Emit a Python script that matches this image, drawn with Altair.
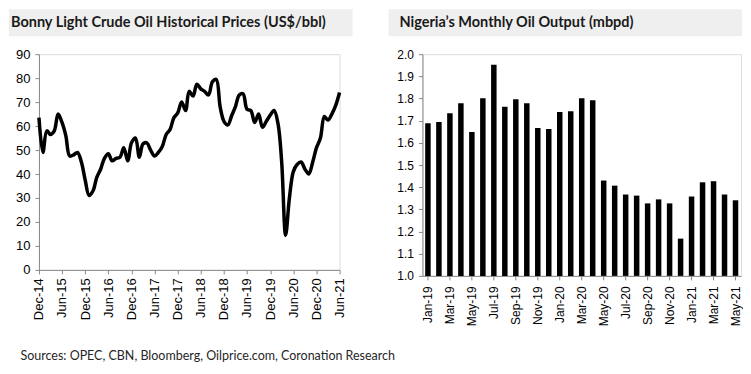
import altair as alt
import pandas as pd

# ---------------- data ----------------
left_title = "Bonny Light Crude Oil Historical Prices (US$/bbl)"
right_title = "Nigeria\u2019s Monthly Oil Output (mbpd)"
source_note = "Sources: OPEC, CBN, Bloomberg, Oilprice.com, Coronation Research"

# monthly Bonny Light price, Dec-14 .. Jun-21
price_values = [
    63.5, 49, 58, 56.5, 58, 65, 61.5, 56, 47.5, 48, 49, 45,
    37.5, 31, 33, 38.5, 42, 46.5, 48.5, 45.5, 46.5, 47, 51, 45.5,
    53, 55, 47, 52.5, 53, 50, 47.5, 49, 51.5, 56.5, 58.5, 63.5,
    65.5, 70, 66.5, 74.5, 72.5, 77.5, 75.5, 74.5, 73, 78.5, 79.5, 68,
    62, 60.5, 64.5, 68, 73, 73.5, 67, 66.5, 61.5, 65, 59.5, 62,
    64.5, 66.5, 61, 45, 14.5, 30, 41, 44, 45, 42, 40, 45,
    51, 55, 64, 62.5, 65, 68.5, 74,
]
price_start = "2014-12-01"
price_ticks = [(2014, 12), (2015, 6), (2015, 12), (2016, 6), (2016, 12), (2017, 6),
               (2017, 12), (2018, 6), (2018, 12), (2019, 6), (2019, 12), (2020, 6),
               (2020, 12), (2021, 6)]
price_y_ticks = [0, 10, 20, 30, 40, 50, 60, 70, 80, 90]

output_months = [
    "Jan-19", "Feb-19", "Mar-19", "Apr-19", "May-19", "Jun-19", "Jul-19", "Aug-19",
    "Sep-19", "Oct-19", "Nov-19", "Dec-19", "Jan-20", "Feb-20", "Mar-20", "Apr-20",
    "May-20", "Jun-20", "Jul-20", "Aug-20", "Sep-20", "Oct-20", "Nov-20", "Dec-20",
    "Jan-21", "Feb-21", "Mar-21", "Apr-21", "May-21",
]
output_values = [
    1.689, 1.694, 1.734, 1.779, 1.649, 1.801, 1.952, 1.763,
    1.797, 1.779, 1.667, 1.662, 1.739, 1.743, 1.801, 1.792,
    1.43, 1.407, 1.367, 1.362, 1.327, 1.345, 1.327, 1.168,
    1.358, 1.422, 1.427, 1.367, 1.341,
]
output_y_ticks = [1.0, 1.1, 1.2, 1.3, 1.4, 1.5, 1.6, 1.7, 1.8, 1.9, 2.0]

# ---------------- frames ----------------
price_df = pd.DataFrame({
    "date": pd.date_range(price_start, periods=len(price_values), freq="MS").strftime("%Y-%m-%dT00:00:00"),
    "price": price_values,
})
output_df = pd.DataFrame({"month": output_months, "output": output_values})

FONT = "Lato"
LABEL = "#262626"
AXIS = "#d9d9d9"
BAND = "#efefef"


def title_layers(text, x1, x2, tx):
    d = pd.DataFrame({"t": [text]})
    band = alt.Chart(d).mark_rect(color=BAND).encode(
        x=alt.value(x1), x2=alt.value(x2), y=alt.value(-45), y2=alt.value(-18)
    )
    txt = alt.Chart(d).mark_text(
        font=FONT, fontWeight="bold", fontSize=14.5, color="#1a1a1a",
        align="left", baseline="middle"
    ).encode(text="t:N", x=alt.value(tx), y=alt.value(-31))
    return band, txt


# ---------------- left: price line ----------------
lband, ltxt = title_layers(left_title, -30, 314, -28)
line = alt.Chart(price_df).mark_line(
    color="black", strokeWidth=3.5, interpolate="catmull-rom"
).encode(
    x=alt.X(
        "date:T",
        title=None,
        scale=alt.Scale(domain=[alt.DateTime(year=2014, month=12, date=1),
                                alt.DateTime(year=2021, month=6, date=1)]),
        axis=alt.Axis(
            values=[alt.DateTime(year=y, month=m, date=1) for y, m in price_ticks],
            format="%b-%y", labelAngle=-90, labelFontSize=13, tickSize=4,
            labelPadding=4, grid=False,
        ),
    ),
    y=alt.Y(
        "price:Q",
        title=None,
        scale=alt.Scale(domain=[0, 90]),
        axis=alt.Axis(values=price_y_ticks, labelFontSize=13, tickSize=4,
                      labelPadding=5, grid=False),
    ),
)
left = alt.layer(lband, ltxt, line).properties(width=301, height=216)

# ---------------- right: output bars ----------------
rband, rtxt = title_layers(right_title, -34, 320, -23)
bars = alt.Chart(output_df).mark_bar(color="black").encode(
    x=alt.X(
        "month:N",
        title=None,
        sort=output_months,
        scale=alt.Scale(paddingInner=0.5, paddingOuter=0.25),
        axis=alt.Axis(values=output_months[::2], labelAngle=-90, labelFontSize=12,
                      tickSize=4, labelPadding=6, grid=False),
    ),
    y=alt.Y(
        "output:Q",
        title=None,
        scale=alt.Scale(domain=[1.0, 2.0], zero=False),
        axis=alt.Axis(values=output_y_ticks, format=".1f", labelFontSize=12,
                      tickSize=4, labelPadding=5, grid=False),
    ),
    y2=alt.datum(1.0),
)
right = alt.layer(rband, rtxt, bars).properties(width=319, height=222)

chart = alt.hconcat(left, right, spacing=34).properties(
    padding=0,
    title=alt.TitleParams(
        source_note, orient="bottom", anchor="start", frame="bounds",
        font=FONT, fontSize=12.5, fontWeight="normal", color="#262626",
        offset=24, dx=12,
    ),
).configure_axis(
    labelFont=FONT, labelColor=LABEL, domainColor=AXIS, tickColor=AXIS,
    domainWidth=1, tickWidth=1,
).configure_view(stroke=None).configure(background="white")

chart.save("out.html", embed_options={"renderer": "svg", "actions": False})
